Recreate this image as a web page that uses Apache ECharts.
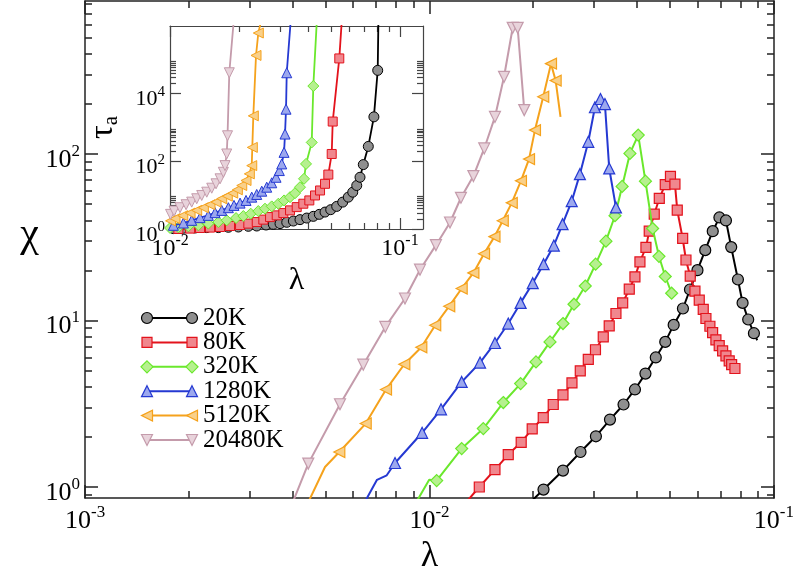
<!DOCTYPE html>
<html><head><meta charset="utf-8">
<script src="https://cdn.jsdelivr.net/npm/echarts@6/dist/echarts.min.js"></script>
<style>html,body{margin:0;padding:0;background:#fff}#c{width:796px;height:575px}</style>
</head><body><div id="c"></div>
<script>
// ---------------- DATA ----------------
const seriesNames = ['20K', '80K', '320K', '1280K', '5120K', '20480K'];

// main plot: lambda (x) and chi (y)
const lam20K = [0.01919, 0.02143, 0.02441, 0.02744, 0.03042, 0.03342, 0.03659, 0.03949, 0.04236, 0.04539, 0.04836, 0.05116, 0.05443, 0.05705, 0.05998, 0.06318, 0.06643, 0.06946, 0.07256, 0.07516, 0.07861, 0.08110, 0.08420, 0.08748, 0.08944];
const chi20K = [0.776, 0.965, 1.255, 1.623, 2.017, 2.541, 3.131, 3.854, 4.80, 6.00, 7.44, 9.41, 11.81, 15.36, 20.06, 26.46, 34.4, 41.6, 39.9, 27.6, 17.64, 12.76, 10.14, 8.39, 7.61];
const unmarked20K = [0, 24];

const lam80K = [0.01255, 0.01395, 0.01549, 0.01693, 0.01846, 0.01987, 0.02139, 0.02287, 0.02441, 0.02592, 0.02740, 0.02891, 0.03033, 0.03195, 0.03325, 0.03478, 0.03638, 0.03802, 0.03949, 0.04083, 0.04250, 0.04345, 0.04493, 0.04647, 0.04836, 0.05007, 0.05160, 0.05240, 0.05433, 0.05554, 0.05715, 0.05898, 0.06070, 0.06234, 0.06347, 0.06518, 0.06637, 0.06785, 0.06937, 0.07097, 0.07256, 0.07416, 0.07537, 0.07705];
const chi80K = [0.776, 1.0, 1.272, 1.566, 1.856, 2.232, 2.613, 3.131, 3.572, 4.217, 4.99, 5.85, 6.675, 7.97, 9.28, 11.02, 12.76, 15.42, 18.28, 22.5, 27.5, 34.4, 43.5, 54.1, 65.5, 73.4, 65.9, 46.0, 31.1, 23.1, 18.46, 15.0, 13.24, 11.65, 10.28, 9.24, 8.45, 7.66, 7.06, 6.57, 6.14, 5.73, 5.44, 5.15];
const unmarked80K = [0];

const lam320K = [0.009042, 0.009979, 0.01049, 0.01240, 0.01433, 0.01638, 0.01839, 0.02038, 0.02238, 0.02441, 0.02627, 0.02833, 0.03036, 0.03253, 0.03456, 0.03625, 0.03819, 0.04037, 0.04236, 0.04445, 0.04637, 0.04836, 0.05047];
const chi320K = [0.776, 1.105, 1.093, 1.701, 2.244, 3.216, 4.18, 5.64, 7.44, 9.59, 12.53, 16.12, 21.8, 29.96, 42.6, 63.9, 100.8, 129.9, 68.7, 35.7, 24.3, 18.38, 14.59];
const unmarked320K = [0, 1];

const lam1280K = [0.006433, 0.007040, 0.007514, 0.007941, 0.009517, 0.01080, 0.01240, 0.01402, 0.01549, 0.01693, 0.01839, 0.01994, 0.02144, 0.02296, 0.02434, 0.02588, 0.02733, 0.02891, 0.03022, 0.03136, 0.03231, 0.03325, 0.03478];
const chi1280K = [0.787, 1.105, 1.176, 1.394, 2.117, 2.93, 4.276, 5.59, 7.33, 9.59, 12.76, 16.76, 21.8, 28.2, 37.9, 52.1, 75.7, 118.4, 191, 214, 199.5, 81.9, 47.8];
const unmarked1280K = [0, 1, 2];

const lam5120K = [0.004403, 0.004973, 0.005472, 0.006528, 0.007477, 0.008450, 0.009467, 0.01039, 0.01141, 0.01240, 0.01341, 0.01440, 0.01544, 0.01632, 0.01733, 0.01843, 0.01945, 0.02024, 0.02139, 0.02253, 0.02324, 0.02401];
const chi5120K = [0.776, 1.319, 1.623, 2.404, 3.848, 5.46, 6.91, 9.37, 12.19, 15.57, 19.32, 25.2, 31.9, 39.7, 50.9, 69.0, 93.2, 139.2, 220.7, 349, 276, 167];
const unmarked5120K = [0, 1, 21];

const lam20480K = [0.00400, 0.004447, 0.005497, 0.006424, 0.007442, 0.008489, 0.009385, 0.01044, 0.01147, 0.01234, 0.01341, 0.01442, 0.01549, 0.01646, 0.01744, 0.01803, 0.01884];
const chi20480K = [0.80, 1.382, 3.14, 5.43, 9.15, 13.56, 20.2, 28.35, 38.8, 54.6, 73.7, 108, 167, 291, 573, 573, 183.5];
const unmarked20480K = [0];

// inset: lambda (x) and tau_a (y)
const insLam20K = [0.01034, 0.01143, 0.01284, 0.01444, 0.01622, 0.01793, 0.01982, 0.02190, 0.02382, 0.02615, 0.02813, 0.03008, 0.03217, 0.03437, 0.03674, 0.03930, 0.04198, 0.04458, 0.04720, 0.04997, 0.05306, 0.05635, 0.05959, 0.06230, 0.06485, 0.06700, 0.06924, 0.07281, 0.0770, 0.0800, 0.0806];
const insTau20K = [1.027, 1.049, 1.070, 1.099, 1.099, 1.122, 1.145, 1.200, 1.225, 1.311, 1.375, 1.441, 1.574, 1.719, 1.890, 2.106, 2.363, 2.706, 3.162, 3.721, 4.652, 6.226, 8.735, 12.25, 19.29, 33.8, 80.0, 276, 2064, 48800, 2e6];
const insLam80K = [0.01087, 0.01222, 0.01350, 0.01492, 0.01650, 0.01823, 0.02016, 0.02190, 0.02382, 0.02545, 0.02722, 0.02910, 0.03109, 0.03325, 0.03555, 0.03798, 0.04033, 0.04270, 0.04490, 0.04720, 0.04879, 0.05047, 0.05098, 0.05445, 0.05600];
const insTau80K = [1.0, 1.027, 1.070, 1.099, 1.145, 1.225, 1.311, 1.441, 1.606, 1.890, 2.254, 2.529, 2.955, 3.548, 4.437, 5.585, 6.985, 9.80, 13.75, 21.65, 40.6, 165, 1500, 1.1e5, 2e6];
const insLam320K = [0.01000, 0.01087, 0.01201, 0.01328, 0.01467, 0.01622, 0.01764, 0.01936, 0.02083, 0.02243, 0.02420, 0.02588, 0.02768, 0.02958, 0.03131, 0.03325, 0.03496, 0.03674, 0.03825, 0.03902, 0.04132, 0.04198, 0.04360];
const insTau320K = [1.070, 1.122, 1.200, 1.285, 1.441, 1.606, 1.803, 2.106, 2.412, 2.838, 3.383, 3.981, 4.652, 5.585, 6.985, 8.73, 11.45, 17.2, 30.4, 83.9, 362, 16800, 2e6];
const insLam1280K = [0.01034, 0.01143, 0.01242, 0.01350, 0.01467, 0.01569, 0.01678, 0.01793, 0.01897, 0.02016, 0.02140, 0.02266, 0.02382, 0.02505, 0.02633, 0.02768, 0.02890, 0.02987, 0.03060, 0.03131, 0.03162, 0.03194, 0.03217, 0.03360];
const insTau1280K = [1.285, 1.501, 1.803, 2.164, 2.529, 3.037, 3.548, 4.26, 4.98, 5.82, 6.985, 8.73, 10.49, 13.11, 17.2, 23.2, 33.8, 53.3, 83.9, 184, 640, 3475, 41500, 2e6];
const insLam5120K = [0.01005, 0.01051, 0.01136, 0.01222, 0.01306, 0.01396, 0.01492, 0.01585, 0.01678, 0.01774, 0.01873, 0.01962, 0.02050, 0.02140, 0.02212, 0.02266, 0.02279, 0.02302, 0.02365, 0.02420, 0.02520];
const insTau5120K = [1.743, 2.022, 2.478, 2.955, 3.548, 4.26, 5.22, 6.226, 7.84, 9.35, 11.45, 14.41, 19.29, 27.1, 42.6, 74.7, 258, 2208, 1.35e5, 6.2e5, 2e6];
const insLam20480K = [0.01005, 0.01041, 0.01105, 0.01174, 0.01242, 0.01306, 0.01373, 0.01444, 0.01518, 0.01585, 0.01650, 0.01705, 0.01734, 0.01764, 0.01778, 0.01810, 0.01900];
const insTau20480K = [2.706, 3.383, 4.26, 5.22, 6.226, 7.84, 9.8, 12.25, 16.07, 21.65, 30.4, 47.5, 74.7, 165, 570, 41500, 2e6];

// tick values
const mainXTicks = [1e-3, 1e-2, 1e-1];
const mainYTicks = [1, 10, 100];
const insetXTicks = [1e-2, 1e-1];
const insetYTicks = [1, 1e2, 1e4];
const minorMult = [2, 3, 4, 5, 6, 7, 8, 9];
const mainXMinor = [1e-3, 1e-2].flatMap(p => minorMult.map(k => k * p));
const mainYMinor = [0.9].concat([1, 10, 100].flatMap(p => minorMult.map(k => k * p)));
const insetXMinor = minorMult.map(k => k * 1e-2);
const insetYMinor = [1, 1e2, 1e4].flatMap(p => minorMult.map(k => k * p));

// ---------------- STYLE ----------------
const SERIF = '"Liberation Serif", "DejaVu Serif", serif';
const styles = [
  { color: '#000000', fill: '#8f8f8f', symbol: 'circle', rot: 0, size: 11 },
  { color: '#e3131c', fill: '#f0878e', symbol: 'rect', rot: 0, size: 10 },
  { color: '#6ae82c', fill: '#b6f08f', symbol: 'diamond', rot: 0, size: 12 },
  { color: '#2539d2', fill: '#9ca8ee', symbol: 'triangle', rot: 0, size: 11 },
  { color: '#f5a21c', fill: '#f9d089', symbol: 'triangle', rot: 90, size: 11 },
  { color: '#c49bab', fill: '#e8d3db', symbol: 'triangle', rot: 180, size: 11 }
];

const mainSets = [
  [lam20K, chi20K, unmarked20K], [lam80K, chi80K, unmarked80K], [lam320K, chi320K, unmarked320K],
  [lam1280K, chi1280K, unmarked1280K], [lam5120K, chi5120K, unmarked5120K], [lam20480K, chi20480K, unmarked20480K]
];
const insetSets = [
  [insLam20K, insTau20K], [insLam80K, insTau80K], [insLam320K, insTau320K],
  [insLam1280K, insTau1280K], [insLam5120K, insTau5120K], [insLam20480K, insTau20480K]
];

function supLabel(v) {
  const e = Math.round(Math.log10(v));
  return '{b|10}{s|' + e + '}';
}
function rich(bs, ss, lh) {
  return {
    b: { fontSize: bs, fontFamily: SERIF, color: '#000', lineHeight: lh },
    s: { fontSize: ss, fontFamily: SERIF, color: '#000', lineHeight: ss, verticalAlign: 'top' }
  };
}

function axisSet(dim, grid, posA, posB, min, max, majors, minors, majLen, minLen, lineCol, lineW, label, name) {
  const base = { type: 'log', logBase: 10, gridIndex: grid, min: min, max: max, splitLine: { show: false }, minorTick: { show: false }, axisPointer: { show: false } };
  const mk = (pos, ticks, len, showLine, lab, nm) => Object.assign({}, base, {
    position: pos,
    axisLine: { show: showLine, onZero: false, lineStyle: { color: lineCol, width: lineW } },
    axisTick: { show: true, inside: true, length: len, customValues: ticks, lineStyle: { color: lineCol, width: lineW } },
    axisLabel: lab ? lab : { show: false },
  }, nm || {});
  return [
    mk(posA, majors, majLen, true, label, name),
    mk(posA, minors, minLen, false, null, null),
    mk(posB, majors, majLen, true, null, null),
    mk(posB, minors, minLen, false, null, null)
  ];
}

const xAxes = [].concat(
  axisSet('x', 0, 'bottom', 'top', 0.0009995, 0.10005, mainXTicks, mainXMinor, 13, 7, '#222', 1.5,
    { show: true, customValues: mainXTicks, formatter: supLabel, margin: 6, rich: rich(26, 17, 34), showMinLabel: true, showMaxLabel: true },
    { name: 'λ', nameLocation: 'middle', nameGap: 36, nameTextStyle: { fontSize: 36, fontFamily: SERIF, color: '#000' } }),
  axisSet('x', 1, 'bottom', 'top', 0.009995, 0.1259, insetXTicks, insetXMinor, 11, 6, '#444', 1.2,
    { show: true, customValues: insetXTicks, formatter: supLabel, margin: 4, rich: rich(24, 16, 32), showMinLabel: true, showMaxLabel: true },
    { name: 'λ', nameLocation: 'middle', nameGap: 36, nameTextStyle: { fontSize: 32, fontFamily: SERIF, color: '#000' } })
);
const yAxes = [].concat(
  axisSet('y', 0, 'left', 'right', 0.859, 830, mainYTicks, mainYMinor, 13, 7, '#222', 1.5,
    { show: true, customValues: mainYTicks, formatter: supLabel, margin: 5, padding: [12, 0, 0, 0], rich: rich(26, 17, 34), showMinLabel: true, showMaxLabel: true },
    { name: 'χ', nameLocation: 'middle', nameRotate: 0, nameGap: 46, nameTextStyle: { fontSize: 42, fontFamily: SERIF, color: '#000', verticalAlign: 'bottom', lineHeight: 30 } }),
  axisSet('y', 1, 'left', 'right', 0.9995, 1e6, insetYTicks, insetYMinor, 11, 6, '#444', 1.2,
    { show: true, customValues: insetYTicks, formatter: supLabel, margin: 5, padding: [12, 0, 0, 0], rich: rich(22, 15, 30), showMinLabel: true, showMaxLabel: true },
    { name: '{t|τ}{a|a}', nameLocation: 'middle', nameRotate: 90, nameGap: 48,
      nameTextStyle: { rich: { t: { fontSize: 34, fontFamily: SERIF, color: '#000', lineHeight: 38 }, a: { fontSize: 21, fontFamily: SERIF, color: '#000', verticalAlign: 'bottom', lineHeight: 21 } } } })
);

function buildData(lam, val, unmarked) {
  return lam.map((x, i) => (unmarked && unmarked.indexOf(i) >= 0) ? { value: [x, val[i]], symbol: 'none' } : [x, val[i]]);
}

const series = [];
mainSets.forEach((s, i) => {
  const st = styles[i];
  series.push({
    name: seriesNames[i], type: 'line', xAxisIndex: 0, yAxisIndex: 0,
    data: buildData(s[0], s[1], s[2]),
    symbol: st.symbol, symbolSize: st.size, symbolRotate: st.rot, showAllSymbol: true, clip: true,
    lineStyle: { color: st.color, width: 2 },
    itemStyle: { color: st.fill, borderColor: st.color, borderWidth: 1.2 },
    emphasis: { disabled: true }, z: 2 + i
  });
});
insetSets.forEach((s, i) => {
  const st = styles[i];
  series.push({
    name: seriesNames[i] + ' inset', type: 'line', xAxisIndex: 4, yAxisIndex: 4,
    data: buildData(s[0], s[1], [s[0].length - 1]),
    symbol: st.symbol, symbolSize: st.size - 1, symbolRotate: st.rot, showAllSymbol: true, clip: true,
    lineStyle: { color: st.color, width: 1.8 },
    itemStyle: { color: st.fill, borderColor: st.color, borderWidth: 1 },
    emphasis: { disabled: true }, z: 2 + i
  });
});

// legend drawn as graphic (line with a marker at both ends)
function markerShape(st, cx, cy) {
  const s = st.size, h = s / 2;
  const common = { style: { fill: st.fill, stroke: st.color, lineWidth: 1.2 }, z: 100 };
  if (st.symbol === 'circle') return Object.assign({ type: 'circle', shape: { cx: cx, cy: cy, r: h } }, common);
  if (st.symbol === 'rect') return Object.assign({ type: 'rect', shape: { x: cx - h, y: cy - h, width: s, height: s } }, common);
  let pts;
  if (st.symbol === 'diamond') pts = [[cx, cy - h], [cx + h, cy], [cx, cy + h], [cx - h, cy]];
  else if (st.rot === 90) pts = [[cx - h, cy], [cx + h, cy - h], [cx + h, cy + h]];
  else if (st.rot === 180) pts = [[cx, cy + h], [cx + h, cy - h], [cx - h, cy - h]];
  else pts = [[cx, cy - h], [cx + h, cy + h], [cx - h, cy + h]];
  return Object.assign({ type: 'polygon', shape: { points: pts } }, common);
}
const graphics = [];
seriesNames.forEach((nm, i) => {
  const st = styles[i];
  const y = 318 + i * 24.4;
  graphics.push({ type: 'line', shape: { x1: 147, y1: y, x2: 192, y2: y }, style: { stroke: st.color, lineWidth: 2 }, z: 99 });
  graphics.push(markerShape(st, 147, y));
  graphics.push(markerShape(st, 192, y));
  graphics.push({ type: 'text', x: 203, y: y, style: { text: nm, fontSize: 25, fontFamily: SERIF, fill: '#000', align: 'left', verticalAlign: 'middle' }, z: 100 });
});

const chart = echarts.init(document.getElementById('c'), null, { renderer: 'canvas' });
chart.setOption({
  animation: false,
  backgroundColor: '#fff',
  grid: [
    { left: 85, right: 22, top: 1, bottom: 77, containLabel: false, outerBoundsMode: 'none' },
    { left: 170, top: 26, width: 253, height: 203, containLabel: false, outerBoundsMode: 'none', show: true, backgroundColor: '#fff', borderWidth: 0 }
  ],
  xAxis: xAxes,
  yAxis: yAxes,
  series: series,
  graphic: graphics
});
</script>
</body></html>
